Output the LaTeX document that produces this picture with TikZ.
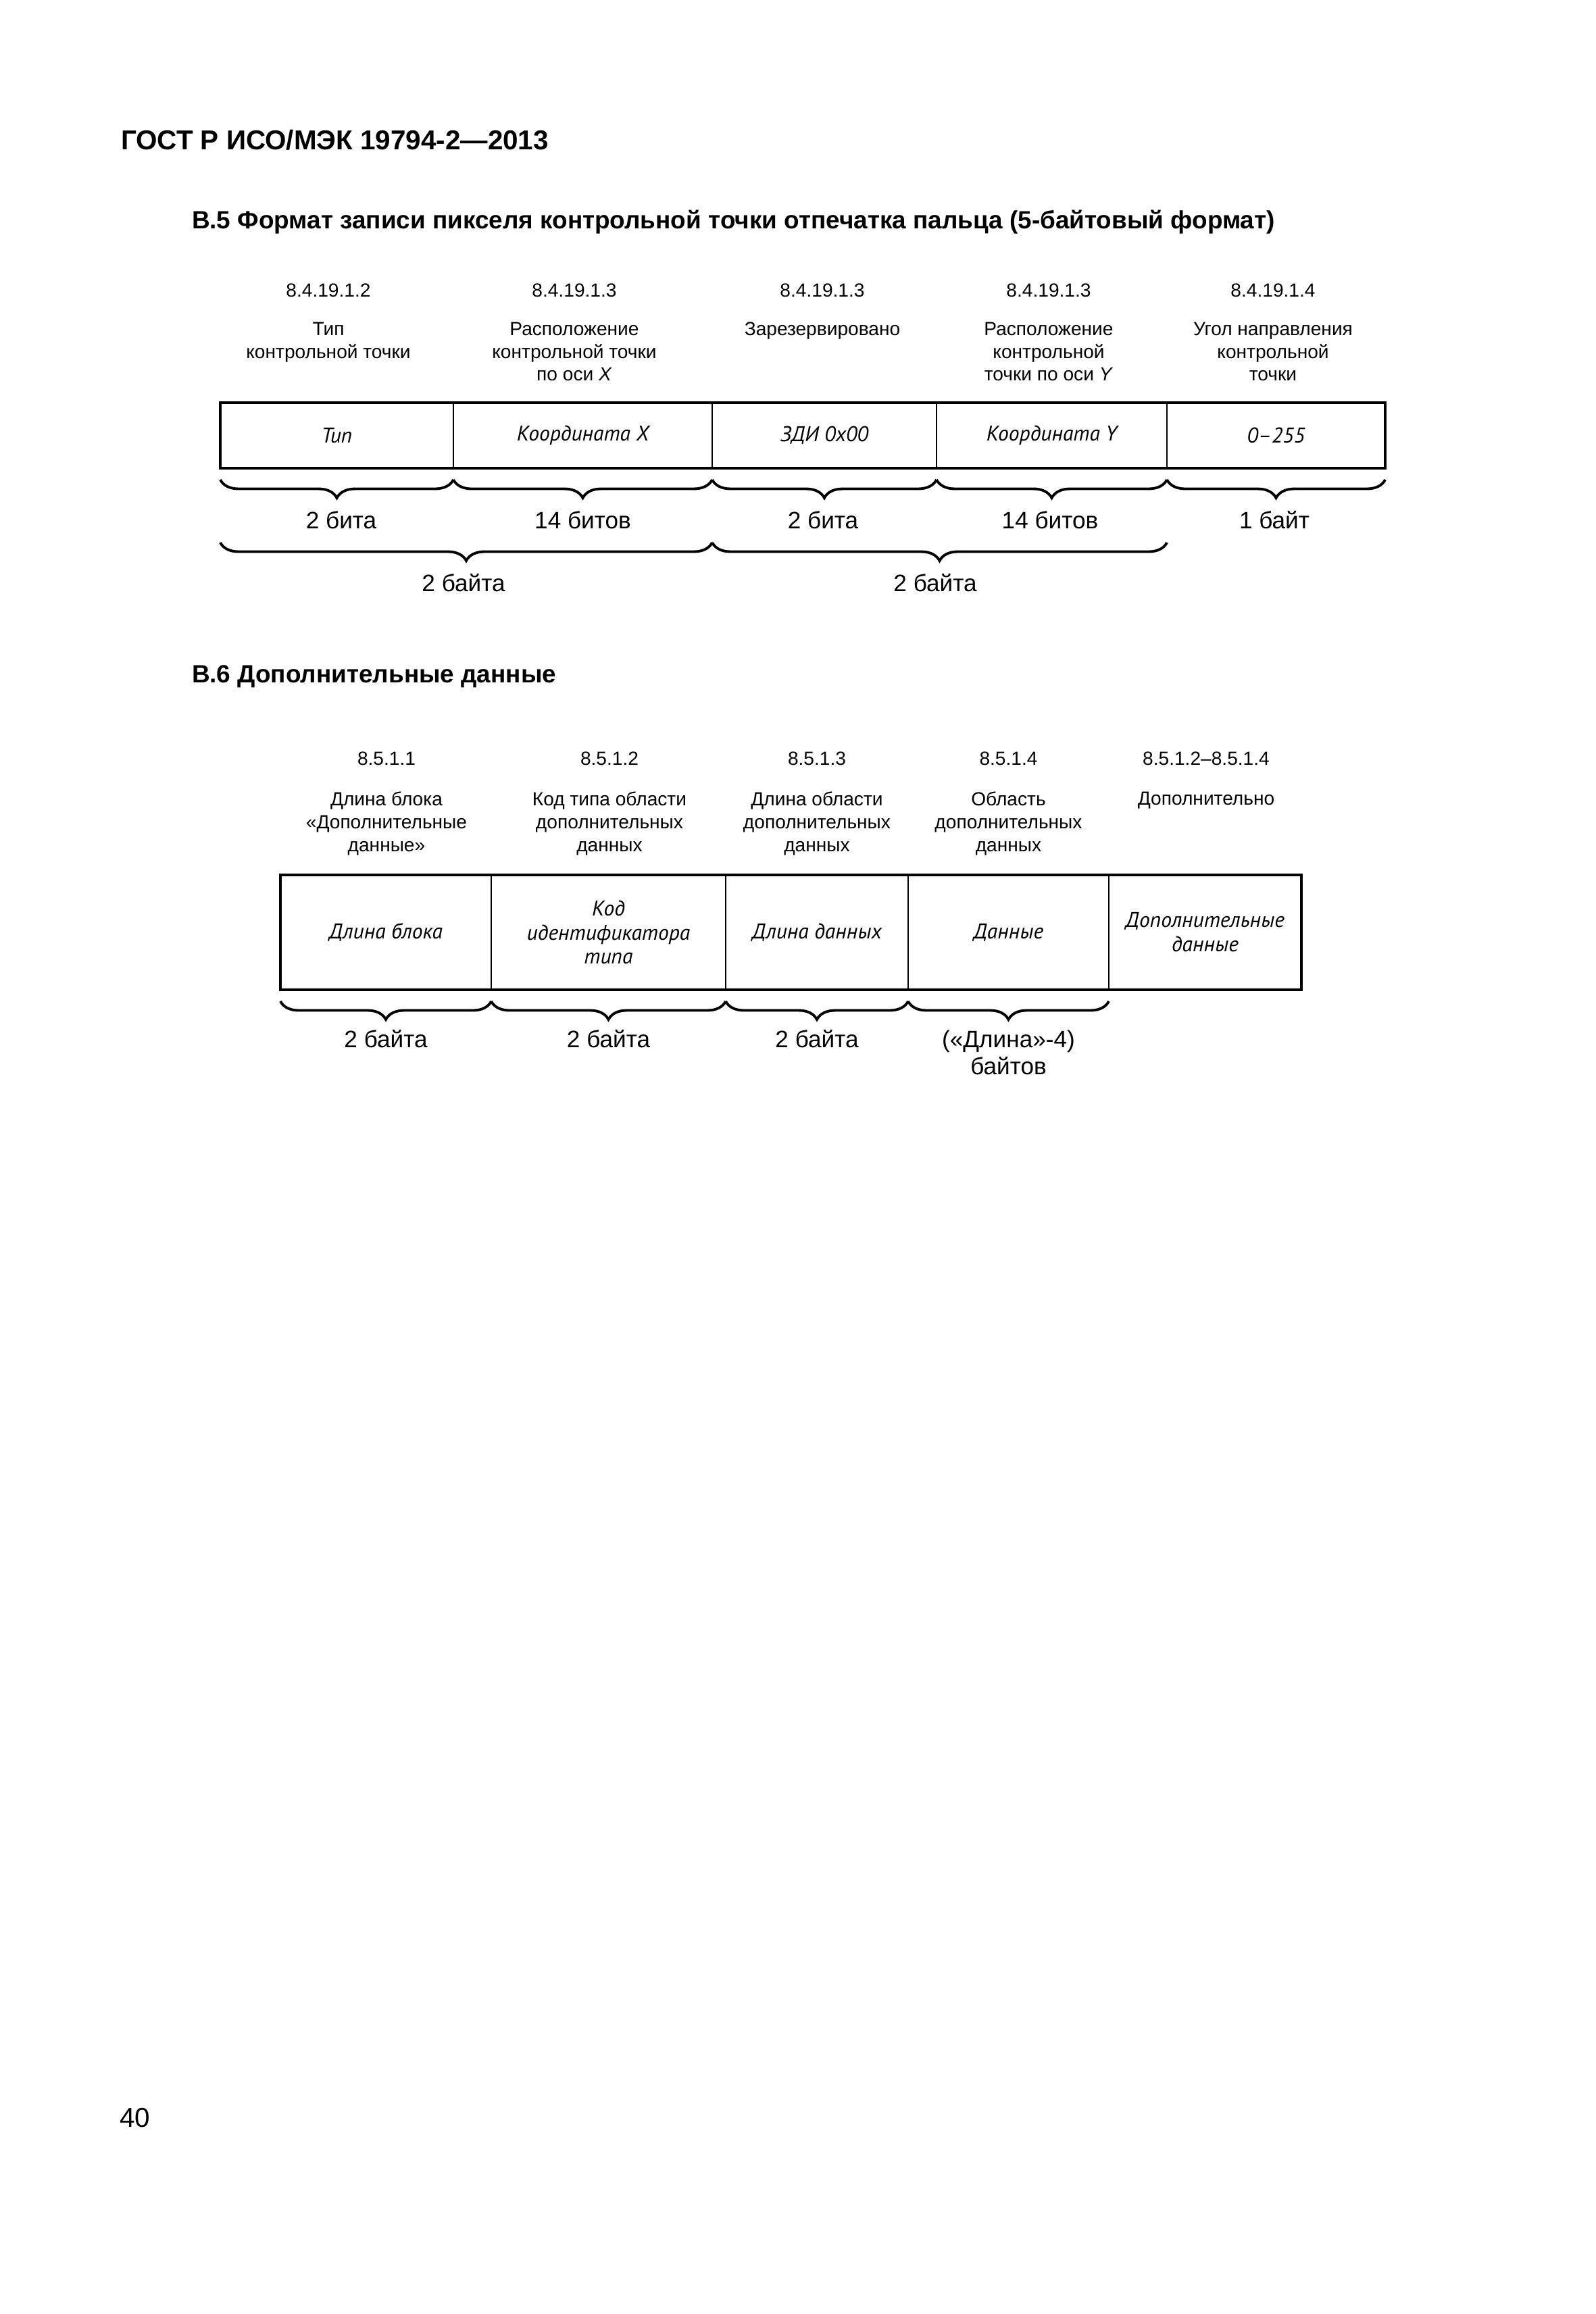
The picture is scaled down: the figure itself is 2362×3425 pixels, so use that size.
\documentclass[tikz,border=0pt]{standalone}
\usepackage{fontspec}
\setmainfont{Liberation Sans}
\newfontfamily\ptsans{PT Sans}
\usetikzlibrary{decorations.pathreplacing,calc}

\begin{document}
\begin{tikzpicture}[x=0.1mm,y=-0.1mm,
    every node/.style={inner sep=0pt,outer sep=0pt},
    ref/.style={font=\fontsize{8}{9.6}\selectfont},
    desc/.style={font=\fontsize{8}{9.6}\selectfont,align=center,anchor=north},
    cell/.style={draw,line width=0.7pt,align=center,
        font=\fontsize{9}{10.2}\selectfont\ptsans\itshape},
    size/.style={font=\fontsize{10}{11.4}\selectfont,align=center},
    brc/.style={decorate,decoration={brace,amplitude=2.7mm},line width=1.1pt},
    frame/.style={line width=1.15pt}]
    \useasboundingbox (0,0) rectangle (2362,3425);

    % headings
    \node[anchor=base west,font=\bfseries\fontsize{11.5}{13}\selectfont] (hdr) at (179,221) {ГОСТ Р ИСО/МЭК 19794-2—2013};
    \node[anchor=base west,font=\bfseries\fontsize{10.5}{12}\selectfont] (tb5) at (284,338) {В.5 Формат записи пикселя контрольной точки отпечатка пальца (5-байтовый формат)};
    \node[anchor=base west,font=\bfseries\fontsize{10.5}{12}\selectfont] (tb6) at (284,1010) {В.6 Дополнительные данные};

    % B.5 record
    \node[ref] (r1) at (486,430) {8.4.19.1.2};
    \node[ref] (r2) at (850,430) {8.4.19.1.3};
    \node[ref] (r3) at (1217,430) {8.4.19.1.3};
    \node[ref] (r4) at (1552,430) {8.4.19.1.3};
    \node[ref] (r5) at (1884,430) {8.4.19.1.4};

    \node[desc] (d1) at (486,477) {Тип\\контрольной точки};
    \node[desc] (d2) at (850,477) {Расположение\\контрольной точки\\по оси \textit{X}};
    \node[desc] (d3) at (1217,477) {Зарезервировано};
    \node[desc] (d4) at (1552,477) {Расположение\\контрольной\\точки по оси \textit{Y}};
    \node[desc] (d5) at (1884,477) {Угол направления\\контрольной\\точки};

    \node[cell,minimum width=34.5mm,minimum height=9.7mm] (a1) at (498.5,644.5) {Тип};
    \node[cell,minimum width=38.3mm,minimum height=9.7mm] (a2) at (862.5,644.5) {Координата X};
    \node[cell,minimum width=33.2mm,minimum height=9.7mm] (a3) at (1220,644.5) {ЗДИ 0x00};
    \node[cell,minimum width=34.1mm,minimum height=9.7mm] (a4) at (1556.5,644.5) {Координата Y};
    \node[cell,minimum width=32.3mm,minimum height=9.7mm] (a5) at (1888.5,644.5) {0–255};
    \draw[frame] (a1.north west) rectangle (a5.south east);

    \draw[brc] ($(a1.south east)+(0,17)$) -- ($(a1.south west)+(0,17)$);
    \draw[brc] ($(a2.south east)+(0,17)$) -- ($(a2.south west)+(0,17)$);
    \draw[brc] ($(a3.south east)+(0,17)$) -- ($(a3.south west)+(0,17)$);
    \draw[brc] ($(a4.south east)+(0,17)$) -- ($(a4.south west)+(0,17)$);
    \draw[brc] ($(a5.south east)+(0,17)$) -- ($(a5.south west)+(0,17)$);
    \node[size] (s1) at (505,770) {2 бита};
    \node[size] (s2) at (862.5,770) {14 битов};
    \node[size] (s3) at (1218,770) {2 бита};
    \node[size] (s4) at (1554,770) {14 битов};
    \node[size] (s5) at (1886,770) {1 байт};

    \draw[brc] ($(a2.south east)+(0,110)$) -- ($(a1.south west)+(0,110)$);
    \draw[brc] ($(a4.south east)+(0,110)$) -- ($(a3.south west)+(0,110)$);
    \node[size] (w1) at (686,863) {2 байта};
    \node[size] (w2) at (1384,863) {2 байта};

    % B.6 extra data
    \node[ref] (q1) at (572,1123) {8.5.1.1};
    \node[ref] (q2) at (902,1123) {8.5.1.2};
    \node[ref] (q3) at (1209,1123) {8.5.1.3};
    \node[ref] (q4) at (1492.5,1123) {8.5.1.4};
    \node[ref] (q5) at (1785,1123) {8.5.1.2–8.5.1.4};

    \node[desc] (e1) at (572,1172) {Длина блока\\«Дополнительные\\данные»};
    \node[desc] (e2) at (902,1172) {Код типа области\\дополнительных\\данных};
    \node[desc] (e3) at (1209,1172) {Длина области\\дополнительных\\данных};
    \node[desc] (e4) at (1492.5,1172) {Область\\дополнительных\\данных};
    \node[desc] (e5) at (1785,1172) {Дополнительно};

    \node[cell,minimum width=31.2mm,minimum height=17mm] (b1) at (571,1380) {Длина блока};
    \node[cell,minimum width=34.7mm,minimum height=17mm] (b2) at (900.5,1380) {Код\\идентификатора\\типа};
    \node[cell,minimum width=27mm,minimum height=17mm] (b3) at (1209,1380) {Длина данных};
    \node[cell,minimum width=29.7mm,minimum height=17mm] (b4) at (1492.5,1380) {Данные};
    \node[cell,minimum width=28.5mm,minimum height=17mm] (b5) at (1783.5,1380) {Дополнительные\\данные};
    \draw[frame] (b1.north west) rectangle (b5.south east);

    \draw[brc] ($(b1.south east)+(0,17)$) -- ($(b1.south west)+(0,17)$);
    \draw[brc] ($(b2.south east)+(0,17)$) -- ($(b2.south west)+(0,17)$);
    \draw[brc] ($(b3.south east)+(0,17)$) -- ($(b3.south west)+(0,17)$);
    \draw[brc] ($(b4.south east)+(0,17)$) -- ($(b4.south west)+(0,17)$);
    \node[size] (t1) at (571,1538) {2 байта};
    \node[size] (t2) at (900.5,1538) {2 байта};
    \node[size] (t3) at (1209,1538) {2 байта};
    \node[size,anchor=north] (t4) at (1492.5,1525) {(«Длина»-4)\\байтов};

    \node[anchor=base west,font=\fontsize{11.5}{13}\selectfont] (pg) at (177,3148) {40};
\end{tikzpicture}
\end{document}
